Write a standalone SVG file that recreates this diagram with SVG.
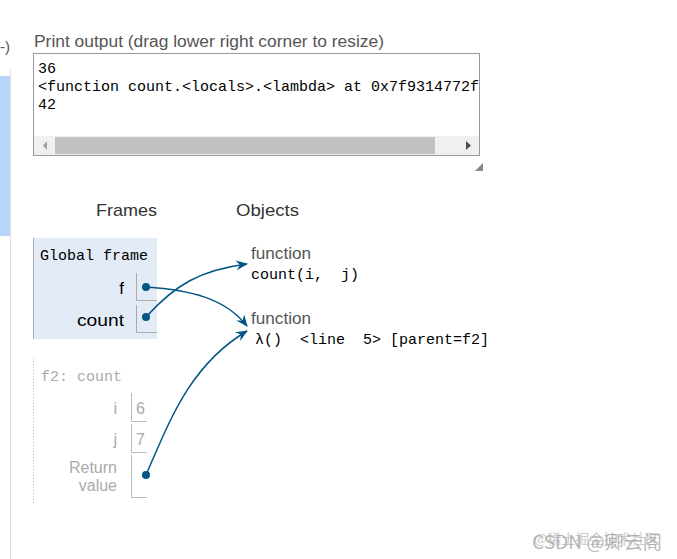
<svg xmlns="http://www.w3.org/2000/svg" width="677" height="559" viewBox="0 0 677 559">
<style>
text{white-space:pre}
.sans{font-family:"Liberation Sans","DejaVu Sans",Arial,sans-serif}
.mono{font-family:"Liberation Mono","DejaVu Sans Mono",monospace}
.lbl{font-size:17px;fill:#333}
.out{font-size:15px;fill:#000}
.fn{font-size:16px;fill:#555}
.obj{font-size:15px;fill:#000}
.var{font-size:17px;fill:#000;text-anchor:end}
.ivar{font-size:16px;fill:#aaa;text-anchor:end}
.box{fill:none;stroke:#aaa;stroke-width:1}
.ibox{fill:none;stroke:#bbb;stroke-width:1}
.arr{fill:none;stroke:#005583;stroke-width:1.5;marker-end:url(#ah)}
.dot{fill:#005583}
</style>
<defs>
<marker id="ah" viewBox="0 0 12 10" refX="11" refY="5" markerWidth="12" markerHeight="10" markerUnits="userSpaceOnUse" orient="auto">
<path d="M0,0 L12,5 L0,10 L4,5 Z" fill="#005583"/>
</marker>
</defs>
<rect width="677" height="559" fill="#fff"/>
<g id="page-edge">
<rect x="0" y="76" width="10" height="160" fill="#b8d6fb"/>
<line x1="10.5" y1="70" x2="10.5" y2="559" stroke="#ddd"/>
<text x="0" y="52" class="sans" font-size="15" fill="#555">-)</text>
</g>
<g id="print-output">
<text x="34" y="47" class="sans" font-size="16" fill="#555" textLength="350" lengthAdjust="spacingAndGlyphs">Print output (drag lower right corner to resize)</text>
<rect x="33.5" y="53.5" width="446" height="102" fill="#fff" stroke="#999"/>
<text x="38" y="73" class="mono out">36</text>
<text x="38" y="91" class="mono out">&lt;function count.&lt;locals&gt;.&lt;lambda&gt; at 0x7f9314772f</text>
<text x="38" y="109" class="mono out">42</text>
<rect x="34" y="136" width="445" height="19" fill="#f0f0f0"/>
<rect x="55" y="137" width="380" height="17" fill="#c1c1c1"/>
<path d="M47,141 L43,145.5 L47,150 Z" fill="#a0a0a0"/>
<path d="M466,141 L471,145.5 L466,150 Z" fill="#505050"/>
<path d="M483,163 L483,171 L475,171 Z" fill="#888"/>
</g>
<text x="96" y="216" class="sans lbl" textLength="61" lengthAdjust="spacingAndGlyphs">Frames</text>
<text x="236" y="216" class="sans lbl" textLength="63" lengthAdjust="spacingAndGlyphs">Objects</text>
<g id="global-frame">
<rect x="33" y="238" width="124" height="101" fill="#e2ebf6"/>
<line x1="33.5" y1="238" x2="33.5" y2="339" stroke="#aaa"/>
<text x="40" y="260" class="mono" font-size="15" fill="#000">Global frame</text>
<text x="124" y="294" class="sans var">f</text>
<path d="M136.5,273 V300.5 H157" class="box"/>
<text x="124" y="326" class="sans var" textLength="47" lengthAdjust="spacingAndGlyphs">count</text>
<path d="M136.5,305 V332.5 H157" class="box"/>
</g>
<g id="f2-frame">
<line x1="33.5" y1="358" x2="33.5" y2="505" stroke="#bbb" stroke-dasharray="1,2"/>
<text x="41" y="381" class="mono" font-size="15" fill="#aaa">f2: count</text>
<text x="117" y="414" class="sans ivar">i</text>
<path d="M131.5,393 V421.5 H147" class="ibox"/>
<text x="136" y="414" class="sans" font-size="16" fill="#aaa">6</text>
<text x="117" y="445" class="sans ivar">j</text>
<path d="M131.5,424 V452.5 H147" class="ibox"/>
<text x="136" y="445" class="sans" font-size="16" fill="#aaa">7</text>
<text x="117" y="473" class="sans ivar">Return</text>
<text x="117" y="491" class="sans ivar">value</text>
<path d="M131.5,455 V497.5 H147" class="ibox"/>
</g>
<g id="obj-count">
<text x="251" y="259" class="sans fn" textLength="60" lengthAdjust="spacingAndGlyphs">function</text>
<text x="251" y="279" class="mono obj">count(i,  j)</text>
</g>
<g id="obj-lambda">
<text x="251" y="324" class="sans fn" textLength="60" lengthAdjust="spacingAndGlyphs">function</text>
<text x="255" y="344" class="mono obj" textLength="234" lengthAdjust="spacingAndGlyphs">λ()  &lt;line  5&gt; [parent=f2]</text>
</g>
<g id="connectors">
<path d="M146,287 C190,290 225,298 247,326" class="arr"/>
<path d="M146,317 C175,285 200,270 247,264" class="arr"/>
<path d="M146,475 C170,420 190,365 247,331" class="arr"/>
<circle cx="146" cy="287" r="4" class="dot"/>
<circle cx="146" cy="317" r="4" class="dot"/>
<circle cx="146" cy="475" r="4" class="dot"/>
</g>
<g id="watermark" font-family="'Noto Sans CJK SC',sans-serif">
<text x="534" y="544" fill="#ccc" font-size="14">@稀土掘金技术社区</text>
<text x="532" y="549" fill="#999" fill-opacity="0.7" font-size="18" textLength="130" lengthAdjust="spacingAndGlyphs">CSDN @卿云阁</text>
</g>
</svg>
